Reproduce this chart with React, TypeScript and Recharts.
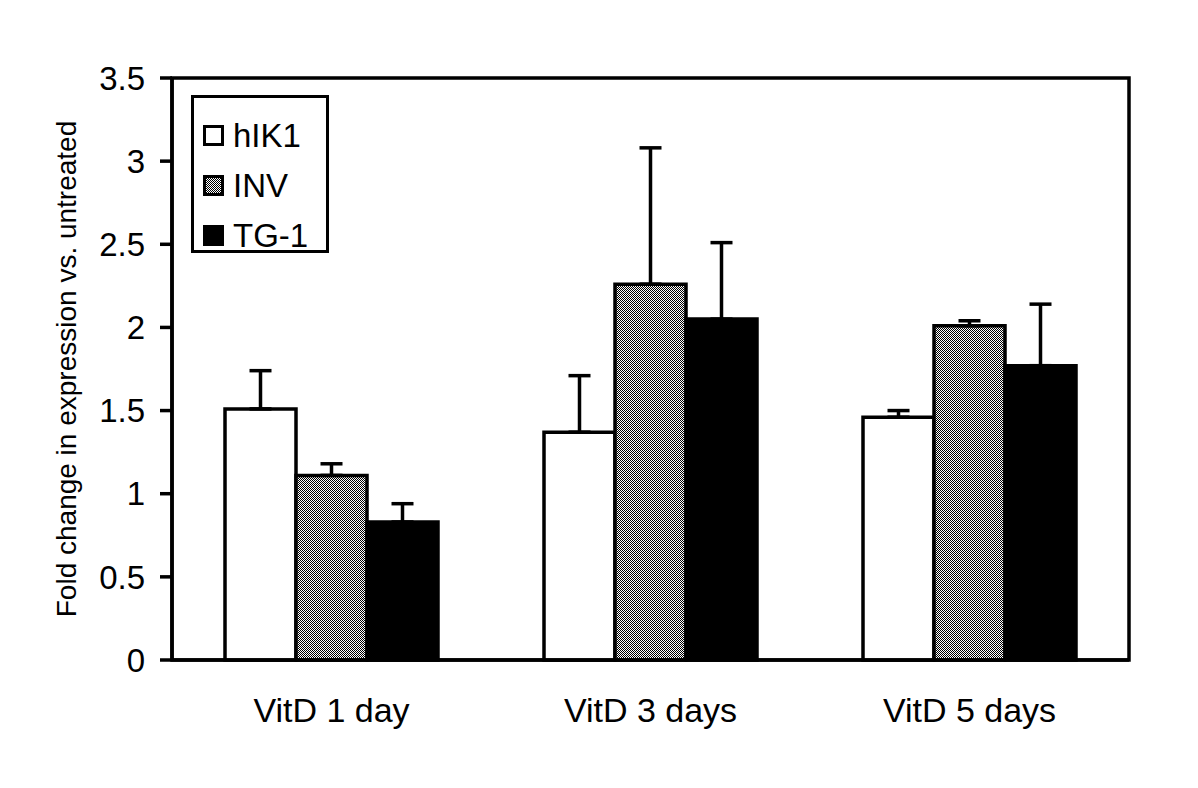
import React from "react";
import {
  BarChart,
  Bar,
  XAxis,
  YAxis,
  ErrorBar,
  Legend,
  ReferenceArea,
} from "recharts";

const groups = ["VitD 1 day", "VitD 3 days", "VitD 5 days"];
const hIK1 = [1.51, 1.37, 1.46];
const hIK1Err = [0.23, 0.34, 0.04];
const inv = [1.11, 2.26, 2.01];
const invErr = [0.07, 0.82, 0.03];
const tg1 = [0.83, 2.05, 1.77];
const tg1Err = [0.11, 0.46, 0.37];
const yTicks = [0, 0.5, 1, 1.5, 2, 2.5, 3, 3.5];

const series = [
  { key: "hIK1", name: "hIK1", fill: "#ffffff" },
  { key: "INV", name: "INV", fill: "url(#dither)" },
  { key: "TG1", name: "TG-1", fill: "#000000" },
];

// error bars only go up, so low side is 0
const data = groups.map((g, i) => ({
  group: g,
  hIK1: hIK1[i],
  hIK1Err: [0, hIK1Err[i]],
  INV: inv[i],
  INVErr: [0, invErr[i]],
  TG1: tg1[i],
  TG1Err: [0, tg1Err[i]],
}));

const FONT = "'Liberation Sans', Arial, sans-serif";

function Swatch({ kind }: { kind: string }) {
  return (
    <svg width={21} height={21} style={{ display: "block" }}>
      <defs>
        <pattern id={"sw-" + kind} width={2} height={2} patternUnits="userSpaceOnUse">
          <rect width={2} height={2} fill="#fff" />
          <rect width={1} height={1} fill="#000" />
          <rect x={1} y={1} width={1} height={1} fill="#000" />
        </pattern>
      </defs>
      <rect
        x={1.5}
        y={1.5}
        width={18}
        height={18}
        fill={kind === "INV" ? `url(#sw-${kind})` : kind === "TG1" ? "#000" : "#fff"}
        stroke="#000"
        strokeWidth={3}
      />
    </svg>
  );
}

function LegendBox() {
  return (
    <div
      style={{
        boxSizing: "border-box",
        width: 138,
        height: 158,
        border: "3px solid #000",
        background: "#fff",
        padding: "12px 0 0 9px",
        fontFamily: FONT,
        fontSize: 33,
        color: "#000",
      }}
    >
      {series.map((s) => (
        <div
          key={s.key}
          style={{ display: "flex", alignItems: "center", height: 50, lineHeight: "33px" }}
        >
          <Swatch kind={s.key} />
          <span style={{ marginLeft: 9 }}>{s.name}</span>
        </div>
      ))}
    </div>
  );
}

function YLabel(props: any) {
  const vb = props.viewBox || {};
  const cx = 66;
  const cy = vb.y + vb.height / 2;
  return (
    <text
      x={cx}
      y={cy}
      transform={`rotate(-90 ${cx} ${cy})`}
      textAnchor="middle"
      dominantBaseline="central"
      fontSize={28}
      fontFamily={FONT}
      fill="#000"
    >
      Fold change in expression vs. untreated
    </text>
  );
}

export default function App() {
  return (
    <div style={{ position: "absolute", left: 0, top: 0, background: "#fff" }}>
      <BarChart
        width={1198}
        height={788}
        data={data}
        margin={{ top: 78, right: 69, bottom: 98, left: 50 }}
        barCategoryGap={53}
        barGap={0}
      >
        <defs>
          <pattern id="dither" width={2} height={2} patternUnits="userSpaceOnUse">
            <rect width={2} height={2} fill="#fff" />
            <rect width={1} height={1} fill="#000" />
            <rect x={1} y={1} width={1} height={1} fill="#000" />
          </pattern>
        </defs>
        <XAxis
          dataKey="group"
          tickLine={false}
          tickSize={0}
          tickMargin={38}
          axisLine={{ stroke: "#000", strokeWidth: 3.5 }}
          tick={{ fill: "#000", fontSize: 34, fontFamily: FONT }}
          height={30}
        />
        <YAxis
          domain={[0, 3.5]}
          ticks={yTicks}
          width={122}
          tickSize={12}
          tickMargin={15}
          axisLine={{ stroke: "#000", strokeWidth: 3.5 }}
          tickLine={{ stroke: "#000", strokeWidth: 3.5 }}
          tick={{ fill: "#000", fontSize: 33, fontFamily: FONT }}
          label={<YLabel />}
        />
        <ReferenceArea y1={0} y2={3.5} fill="none" stroke="#000" strokeWidth={3.5} />
        {series.map((s) => (
          <Bar
            key={s.key}
            dataKey={s.key}
            name={s.name}
            fill={s.fill}
            stroke="#000"
            strokeWidth={3.5}
            isAnimationActive={false}
          >
            <ErrorBar
              dataKey={s.key + "Err"}
              direction="y"
              width={11}
              stroke="#000"
              strokeWidth={3.5}
            />
          </Bar>
        ))}
        <Legend
          layout="vertical"
          align="center"
          verticalAlign="middle"
          content={() => <LegendBox />}
          wrapperStyle={{ left: 191, top: 95, width: 138, height: 158 }}
        />
      </BarChart>
    </div>
  );
}
